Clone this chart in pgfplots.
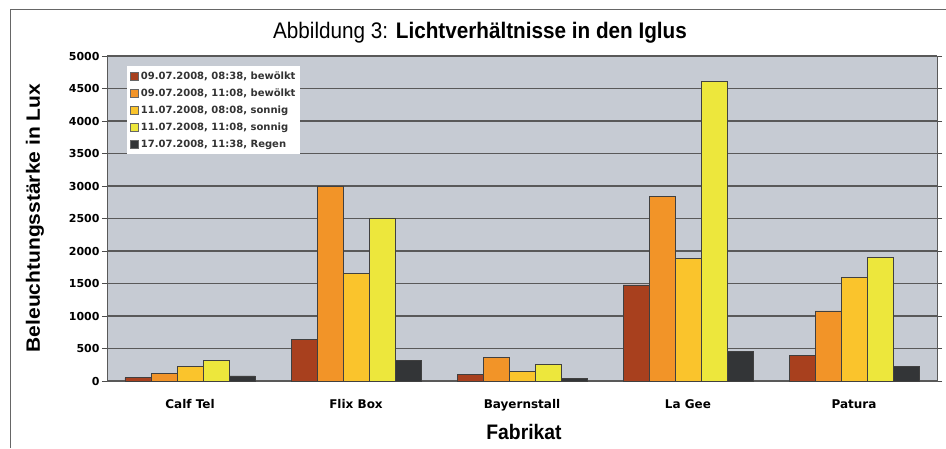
\documentclass[border=0pt]{standalone}
\usepackage{pgfplots}
\pgfplotsset{compat=1.18}
\usepackage{fontspec}
\setmainfont{Liberation Sans}
\newfontfamily\dvb{DejaVu Sans}
\definecolor{bgc}{HTML}{C6CBD3}
\definecolor{cA}{HTML}{A8401E}
\definecolor{cB}{HTML}{F29428}
\definecolor{cC}{HTML}{FAC42C}
\definecolor{cD}{HTML}{EDE73C}
\definecolor{cE}{HTML}{333537}
\begin{document}
\begin{tikzpicture}[x=1pt,y=1pt]
\useasboundingbox (0,0) rectangle (946,448);
\draw[gray!80!black, line width=1pt] (10,0) -- (10,438) -- (946,438);
\node[font=\fontsize{22.5}{26}\selectfont, xscale=0.92] at (480,415) {Abbildung 3: \textbf{Lichtverhältnisse in den Iglus}};
\node[font=\bfseries\fontsize{21}{24}\selectfont, rotate=90, yscale=0.92] at (35,230) {Beleuchtungsstärke in Lux};
\node[font=\bfseries\fontsize{21}{24}\selectfont, xscale=0.92] at (524,16) {Fabrikat};
\begin{axis}[
  at={(107pt,67pt)}, anchor=south west,
  width=830pt, height=325pt, scale only axis,
  xmin=-0.5, xmax=4.5, ymin=0, ymax=5000,
  ybar=0pt, bar width=26pt,
  axis background/.style={fill=bgc},
  axis line style={gray!70!black, line width=1pt},
  xtick={0,1,2,3,4},
  xticklabels={Calf Tel, Flix Box, Bayernstall, La Gee, Patura},
  xtick style={draw=none},
  minor xtick={0.5,1.5,2.5,3.5},
  minor tick length=4pt,
  ytick={0,500,...,5000},
  ymajorgrids,
  grid style={black!65, line width=1.3pt},
  major tick length=5pt,
  tick align=outside,
  tick style={black!70, line width=0.8pt},
  yticklabel style={font=\dvb\bfseries\fontsize{11}{12}\selectfont, xshift=1pt},
  xticklabel style={font=\dvb\bfseries\fontsize{12}{13}\selectfont, yshift=-10pt},
  /pgf/number format/assume math mode=true,
  /pgf/number format/1000 sep={},
  legend style={at={(0.024,0.969)}, anchor=north west, draw=none, fill=white,
    font=\dvb\bfseries\fontsize{10}{11}\selectfont, inner sep=3pt, row sep=4pt,
    legend cell align=left, text=black!80},
  legend image code/.code={\draw[#1, draw=black!60] (0pt,-4pt) rectangle (8pt,4pt);},
  every axis plot/.append style={draw=black!75, line width=0.8pt},
]
\addplot[fill=cA] coordinates {(0,50) (1,640) (2,103) (3,1477) (4,400)};
\addplot[fill=cB] coordinates {(0,123) (1,3000) (2,360) (3,2846) (4,1077)};
\addplot[fill=cC] coordinates {(0,230) (1,1660) (2,143) (3,1892) (4,1600)};
\addplot[fill=cD] coordinates {(0,323) (1,2508) (2,257) (3,4615) (4,1905)};
\addplot[fill=cE] coordinates {(0,77) (1,323) (2,40) (3,451) (4,220)};
\legend{{09.07.2008, 08:38, bewölkt}, {09.07.2008, 11:08, bewölkt}, {11.07.2008, 08:08, sonnig}, {11.07.2008, 11:08, sonnig}, {17.07.2008, 11:38, Regen}}
\end{axis}
\end{tikzpicture}
\end{document}
